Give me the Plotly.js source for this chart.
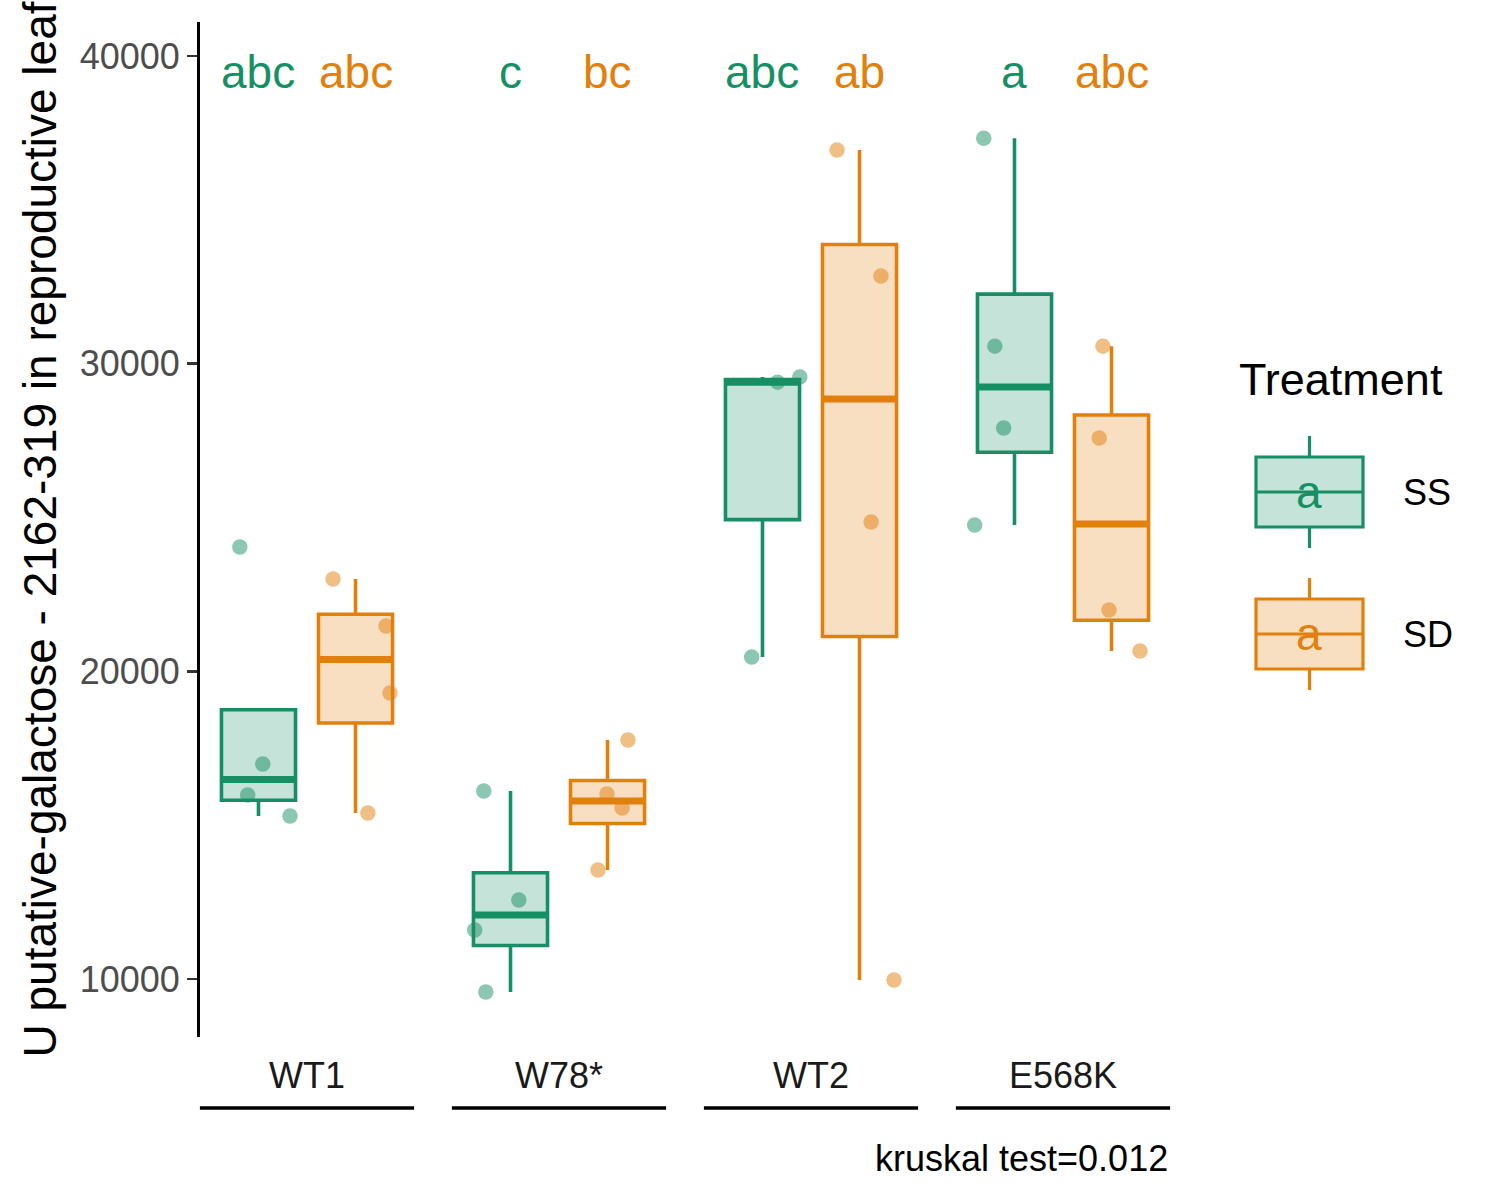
<!DOCTYPE html>
<html><head><meta charset="utf-8">
<script src="https://cdn.plot.ly/plotly-3.0.1.min.js"></script>
<style>html,body{margin:0;padding:0;background:#fff}</style>
</head><body>
<div id="chart" style="width:1500px;height:1200px"></div>
<script>
// ---------------- data ----------------
const genotypes = ['WT1', 'W78*', 'WT2', 'E568K'];
const treatments = ['SS', 'SD'];
const ssValues = [
  [24040, 16990, 15980, 15300],
  [16110, 12570, 11590, 9580],
  [20465, 29400, 29565],
  [37330, 30570, 27910, 24755]
];
const sdValues = [
  [23000, 21475, 19295, 15395],
  [17770, 16015, 15560, 13545],
  [36945, 32850, 24855, 9970],
  [30570, 27585, 21995, 20660]
];
// horizontal jitter of each point (category units)
const ssJitter = [[-0.074, 0.017, -0.043, 0.125], [-0.106, 0.033, -0.142, -0.098], [-0.043, 0.06, 0.148], [-0.122, -0.078, -0.043, -0.158]];
const sdJitter = [[-0.089, 0.121, 0.137, 0.049], [0.081, -0.002, 0.058, -0.038], [-0.089, 0.085, 0.046, 0.137], [-0.034, -0.049, -0.01, 0.113]];
const ssLetters = ['abc', 'c', 'abc', 'a'];
const sdLetters = ['abc', 'bc', 'ab', 'abc'];
const yTicks = [10000, 20000, 30000, 40000];
const yTitle = 'U putative-galactose - 2162-319 in reproductive leaf';
const kruskalText = 'kruskal test=0.012';
const legendTitle = 'Treatment';
const legendKeyLetter = 'a';

// ---------------- styling / layout constants ----------------
const FONT = 'Liberation Sans, Arial, Helvetica, sans-serif';
const colors = { SS: '#178F64', SD: '#E2800C' };
const fills = { SS: 'rgba(23,143,100,0.25)', SD: 'rgba(226,128,12,0.25)' };
const pts = { SS: 'rgba(23,143,100,0.5)', SD: 'rgba(226,128,12,0.5)' };
const dodge = 0.1925, boxW = 0.294;
const XR = [0.5754, 4.4246], YR = [8115, 41105];
const L = 200, R = 1170, T = 22, B = 1037;
const px = x => (x - L) / (R - L);
const py = y => (B - y) / (B - T);
const xPaper = v => (v - XR[0]) / (XR[1] - XR[0]);
const letterY = 39478;

function q7(sorted, p) {
  const h = (sorted.length - 1) * p, lo = Math.floor(h), hi = Math.ceil(h);
  return sorted[lo] + (h - lo) * (sorted[hi] - sorted[lo]);
}
function stats(vals) {
  const s = vals.slice().sort((a, b) => a - b);
  const q1 = q7(s, 0.25), med = q7(s, 0.5), q3 = q7(s, 0.75), iqr = q3 - q1;
  const lo = Math.min(...s.filter(v => v >= q1 - 1.5 * iqr));
  const hi = Math.max(...s.filter(v => v <= q3 + 1.5 * iqr));
  return { q1, med, q3, lo, hi };
}

const traces = [];
const annotations = [];
const sets = { SS: [ssValues, ssJitter, ssLetters, -dodge], SD: [sdValues, sdJitter, sdLetters, dodge] };

treatments.forEach(t => {
  const [vals, jit, letters, off] = sets[t];
  genotypes.forEach((g, gi) => {
    const pos = gi + 1 + off;
    const st = stats(vals[gi]);
    traces.push({
      type: 'box', x: [pos], q1: [st.q1], median: [st.med], q3: [st.q3],
      lowerfence: [st.lo], upperfence: [st.hi], width: boxW,
      boxpoints: false, whiskerwidth: 0, fillcolor: fills[t],
      line: { color: colors[t], width: 3.6 }, showlegend: false, hoverinfo: 'skip'
    });
    traces.push({
      type: 'scatter', mode: 'lines', x: [pos - boxW / 2, pos + boxW / 2], y: [st.med, st.med],
      line: { color: colors[t], width: 7 }, showlegend: false, hoverinfo: 'skip'
    });
    annotations.push({
      x: pos, y: letterY, xref: 'x', yref: 'y', text: letters[gi], showarrow: false,
      xanchor: 'center', yanchor: 'middle', font: { family: FONT, size: 46, color: colors[t] }
    });
  });
});
treatments.forEach(t => {
  const [vals, jit, letters, off] = sets[t];
  const xs = [], ys = [];
  genotypes.forEach((g, gi) => {
    vals[gi].forEach((v, i) => { xs.push(gi + 1 + off + jit[gi][i]); ys.push(v); });
  });
  traces.push({
    type: 'scatter', mode: 'markers', x: xs, y: ys, name: t,
    marker: { size: 15.5, color: pts[t], line: { width: 0 } }, showlegend: false, hoverinfo: 'skip'
  });
});

// underline segments below category labels
const shapes = [];
genotypes.forEach((g, gi) => {
  shapes.push({
    type: 'line', xref: 'paper', yref: 'paper',
    x0: xPaper(gi + 1 - 0.425), x1: xPaper(gi + 1 + 0.425), y0: py(1108), y1: py(1108),
    line: { color: '#000', width: 3.5 }
  });
});

// custom legend
const keyTops = { SS: 457, SD: 599 };
treatments.forEach(t => {
  const top = keyTops[t], bot = top + 70, mid = top + 35;
  shapes.push({ type: 'rect', xref: 'paper', yref: 'paper', x0: px(1256), x1: px(1363), y0: py(bot), y1: py(top),
    fillcolor: fills[t], line: { color: colors[t], width: 3.2 } });
  shapes.push({ type: 'line', xref: 'paper', yref: 'paper', x0: px(1256), x1: px(1363), y0: py(mid), y1: py(mid),
    line: { color: colors[t], width: 3.2 } });
  shapes.push({ type: 'line', xref: 'paper', yref: 'paper', x0: px(1309.5), x1: px(1309.5), y0: py(top - 21), y1: py(top),
    line: { color: colors[t], width: 3.2 } });
  shapes.push({ type: 'line', xref: 'paper', yref: 'paper', x0: px(1309.5), x1: px(1309.5), y0: py(bot), y1: py(bot + 21),
    line: { color: colors[t], width: 3.2 } });
  annotations.push({ x: px(1309), y: py(mid), xref: 'paper', yref: 'paper', text: legendKeyLetter, showarrow: false,
    xanchor: 'center', yanchor: 'middle', font: { family: FONT, size: 46, color: colors[t] } });
  annotations.push({ x: px(1401), y: py(mid), xref: 'paper', yref: 'paper', text: t, showarrow: false,
    xanchor: 'left', yanchor: 'middle', font: { family: FONT, size: 36, color: '#000' } });
});
annotations.push({ x: px(1237), y: py(379), xref: 'paper', yref: 'paper', text: legendTitle, showarrow: false,
  xanchor: 'left', yanchor: 'middle', font: { family: FONT, size: 45, color: '#000' } });
annotations.push({ x: px(1170), y: py(1158), xref: 'paper', yref: 'paper', text: kruskalText, showarrow: false,
  xanchor: 'right', yanchor: 'middle', font: { family: FONT, size: 36, color: '#000' } });

const layout = {
  width: 1500, height: 1200,
  margin: { l: L, r: 1500 - R, t: T, b: 1200 - B, pad: 0 },
  paper_bgcolor: '#fff', plot_bgcolor: '#fff',
  boxmode: 'overlay', showlegend: false,
  font: { family: FONT },
  xaxis: {
    range: XR, tickvals: genotypes.map((g, i) => i + 1), ticktext: genotypes,
    showgrid: false, zeroline: false, showline: false,
    ticks: 'outside', ticklen: 7, tickcolor: 'rgba(0,0,0,0)',
    tickfont: { family: FONT, size: 36, color: '#1A1A1A' }
  },
  yaxis: {
    range: YR, tickvals: yTicks, ticktext: yTicks.map(String),
    showgrid: false, zeroline: false, showline: true, linecolor: '#000', linewidth: 3,
    ticks: 'outside', ticklen: 10, tickwidth: 2.5, tickcolor: '#333',
    tickfont: { family: FONT, size: 36, color: '#4D4D4D' },
    title: { text: yTitle, font: { family: FONT, size: 46, color: '#000' }, standoff: 9 }
  },
  shapes, annotations
};
Plotly.newPlot('chart', traces, layout, { staticPlot: true });
</script>
</body></html>
